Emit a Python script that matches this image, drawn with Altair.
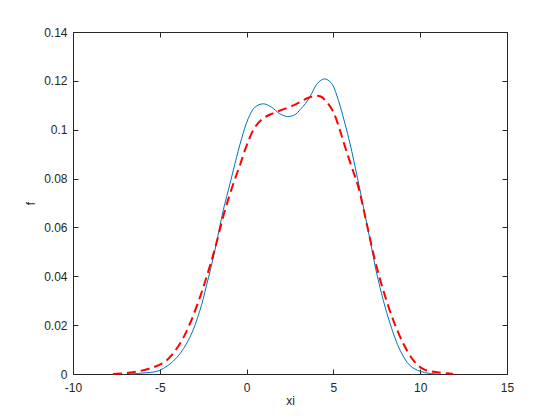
import altair as alt
import pandas as pd

# Blue solid curve (f vs xi)
blue_x = [-6.7, -6.0, -5.04, -4.04, -3.27, -2.69, -2.31, -1.83, -1.35, -0.96, -0.675, -0.29,
          0.09, 0.48, 0.96, 1.44, 1.92, 2.37, 2.8, 3.08, 3.4, 3.65, 4.04, 4.3, 4.52, 4.75, 4.95,
          5.29, 5.67, 5.96, 6.38, 6.73, 7.12, 7.5, 7.88, 8.27, 8.85, 9.42, 10.0, 10.5, 11.0]
blue_f = [0.0, 0.0004, 0.0014, 0.0066, 0.015, 0.026, 0.0362, 0.0505, 0.0669, 0.0778, 0.086, 0.0963,
          0.1045, 0.1092, 0.1106, 0.1092, 0.1065, 0.1054, 0.1062, 0.1082, 0.1108, 0.1135, 0.1186,
          0.1203, 0.1208, 0.1200, 0.1184, 0.112, 0.1024, 0.0942, 0.0805, 0.0683, 0.0546, 0.041,
          0.030, 0.0205, 0.0096, 0.0034, 0.0011, 0.0003, 0.0]

# Red dashed curve
red_x = [-7.7, -6.54, -5.39, -4.62, -3.85, -3.27, -2.69, -2.31, -1.83, -1.25, -0.77, -0.39,
         0.0, 0.48, 0.96, 1.44, 2.11, 2.88, 3.65, 4.23, 4.62, 5.0, 5.38, 5.67, 6.1, 6.44,
         6.92, 7.4, 7.88, 8.46, 9.04, 9.62, 10.19, 10.96, 11.9]
red_f = [0.0, 0.0007, 0.0027, 0.0055, 0.0123, 0.0205, 0.0314, 0.0396, 0.0512, 0.0669, 0.0778,
         0.0853, 0.0935, 0.101, 0.1047, 0.1065, 0.1083, 0.1106, 0.1133, 0.1137, 0.1113, 0.1072,
         0.0997, 0.093, 0.0838, 0.0765, 0.0615, 0.0464, 0.0341, 0.0218, 0.0123, 0.0055, 0.002,
         0.0007, 0.0]

x_ticks = [-10, -5, 0, 5, 10, 15]
y_ticks = [0, 0.02, 0.04, 0.06, 0.08, 0.10, 0.12, 0.14]

blue_df = pd.DataFrame({"xi": blue_x, "f": blue_f})
red_df = pd.DataFrame({"xi": red_x, "f": red_f})

FONT = "Liberation Sans"
AX = "#262626"

common_axis = dict(domain=False, grid=False, offset=-5, tickSize=5, tickColor=AX,
                   tickWidth=1, labelFlush=False, labelOverlap=False)

xs = alt.Scale(domain=[-10, 15], nice=False, zero=False)
ys = alt.Scale(domain=[0, 0.14], nice=False, zero=False)

blue = alt.Chart(blue_df).mark_line(color="#0072BD", strokeWidth=1, interpolate="catmull-rom").encode(
    x=alt.X("xi:Q", scale=xs, axis=alt.Axis(
        orient="bottom", values=x_ticks, title="xi",
        labelExpr="replace(datum.label, '\u2212', '-')",
        labelFont=FONT, labelFontSize=12, labelColor=AX, labelPadding=8,
        titleFont=FONT, titleFontSize=12, titleFontWeight="normal", titleColor=AX,
        titlePadding=2, **common_axis)),
    y=alt.Y("f:Q", scale=ys, axis=alt.Axis(
        orient="left", values=y_ticks, title="f", format=".2~f",
        labelFont=FONT, labelFontSize=12, labelColor=AX, labelPadding=6,
        titleFont=FONT, titleFontSize=12, titleFontWeight="normal", titleColor=AX,
        titlePadding=6, **common_axis)),
)

red = alt.Chart(red_df).mark_line(color="#FF0000", strokeWidth=2, strokeDash=[9, 5],
                                  interpolate="catmull-rom").encode(
    x=alt.X("xi:Q", scale=xs, axis=alt.Axis(orient="top", values=x_ticks, labels=False,
                                            title=None, **common_axis)),
    y=alt.Y("f:Q", scale=ys, axis=alt.Axis(orient="right", values=y_ticks, labels=False,
                                           title=None, **common_axis)),
)

chart = alt.layer(blue, red).resolve_axis(x="independent", y="independent").properties(
    width=434, height=342,
    autosize=alt.AutoSizeParams(type="none"),
    padding={"left": 65, "top": 24, "right": 45, "bottom": 34},
    background="white",
).configure_view(stroke=AX, strokeWidth=1)

chart.save("out.html", embed_options={"renderer": "svg", "actions": False})
